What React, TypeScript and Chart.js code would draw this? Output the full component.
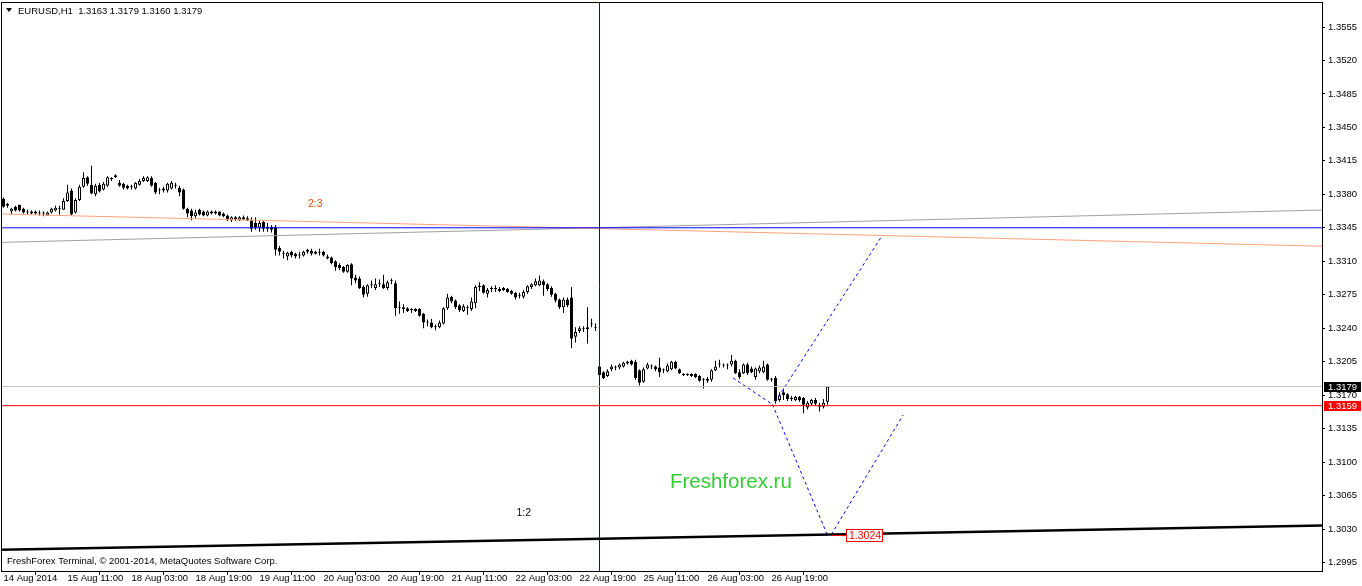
import { useEffect, useRef } from "react";
import { Chart, registerables } from "chart.js";

Chart.register(...registerables);

// ---------- DATA (EURUSD, H1) ----------
const OPEN = [
  1.3375, 1.337, 1.3362, 1.3367, 1.3369, 1.3365, 1.3362, 1.3362, 1.3362, 1.3361,
  1.336, 1.3358, 1.3361, 1.3363, 1.3365, 1.3364, 1.3373, 1.3384, 1.3361, 1.3374,
  1.3388, 1.3398, 1.339, 1.338, 1.339, 1.3385, 1.3389, 1.3396, 1.3398, 1.3392,
  1.3391, 1.3389, 1.3388, 1.3386, 1.339, 1.3394, 1.3394, 1.3397, 1.3392, 1.3384,
  1.3386, 1.3384, 1.3386, 1.3389, 1.3387, 1.3385, 1.3365, 1.3363, 1.3357, 1.3364,
  1.3362, 1.3358, 1.336, 1.3362, 1.3362, 1.336, 1.3358, 1.3353, 1.3356, 1.3353,
  1.3356, 1.3355, 1.3353, 1.335, 1.3345, 1.3351, 1.3346, 1.3346, 1.3346, 1.3324,
  1.3318, 1.3315, 1.332, 1.3318, 1.3316, 1.3316, 1.3322, 1.3321, 1.332, 1.3319,
  1.332, 1.3315, 1.3314, 1.331, 1.3306, 1.3304, 1.3299, 1.3307, 1.3293, 1.3292,
  1.3283, 1.3276, 1.3286, 1.3282, 1.3286, 1.3286, 1.3282, 1.3289, 1.3287, 1.3262,
  1.3262, 1.3261, 1.3259, 1.326, 1.326, 1.3255, 1.3247, 1.3246, 1.3241, 1.3241,
  1.3245, 1.3261, 1.3273, 1.3269, 1.3264, 1.3258, 1.3261, 1.326, 1.3266, 1.3283,
  1.3285, 1.3276, 1.3281, 1.3281, 1.3281, 1.3282, 1.3281, 1.3279, 1.3277, 1.3274,
  1.3273, 1.3278, 1.3283, 1.3285, 1.3285, 1.3289, 1.3286, 1.3282, 1.3276, 1.327,
  1.3262, 1.327, 1.3272, 1.3231, 1.3237, 1.3239, 1.3239, 1.3245, 1.3241, 1.32,
  1.3194, 1.319, 1.3197, 1.3199, 1.3199, 1.32, 1.3203, 1.3206, 1.3205, 1.3196,
  1.3184, 1.3198, 1.32, 1.32, 1.3199, 1.3196, 1.3195, 1.3197, 1.3205, 1.3197,
  1.3192, 1.3191, 1.319, 1.3192, 1.319, 1.3186, 1.3185, 1.3186, 1.3196, 1.3202,
  1.3201, 1.3202, 1.3202, 1.3206, 1.3194, 1.3193, 1.3202, 1.3198, 1.3189, 1.3195,
  1.3194, 1.3202, 1.3187, 1.3188, 1.3165, 1.3173, 1.3171, 1.3167, 1.3165, 1.3168,
  1.3167, 1.3157, 1.3161, 1.3165, 1.316, 1.3158, 1.3163,
];
const HIGH = [
  1.3377, 1.3371, 1.3366, 1.3368, 1.3369, 1.3366, 1.3364, 1.3363, 1.3363, 1.3363,
  1.3362, 1.3362, 1.3366, 1.3368, 1.3368, 1.3376, 1.339, 1.3386, 1.3376, 1.339,
  1.3403, 1.3399, 1.341, 1.3391, 1.3392, 1.3393, 1.3399, 1.3398, 1.3401, 1.3395,
  1.3392, 1.339, 1.339, 1.3393, 1.3396, 1.3399, 1.3399, 1.3399, 1.3393, 1.3387,
  1.3388, 1.3392, 1.3394, 1.3392, 1.3389, 1.3386, 1.3366, 1.3365, 1.3364, 1.3365,
  1.3363, 1.3363, 1.3363, 1.3363, 1.3362, 1.3361, 1.3359, 1.3357, 1.3357, 1.3357,
  1.3358, 1.3357, 1.3356, 1.3356, 1.3352, 1.3353, 1.335, 1.3348, 1.3348, 1.3326,
  1.3321, 1.332, 1.3321, 1.3319, 1.332, 1.3321, 1.3323, 1.3323, 1.3321, 1.3323,
  1.3321, 1.3317, 1.3315, 1.3311, 1.3308, 1.3305, 1.3307, 1.3308, 1.3296, 1.3294,
  1.3285, 1.3286, 1.329, 1.3292, 1.3291, 1.3296, 1.329, 1.3292, 1.329, 1.3268,
  1.3265, 1.3262, 1.3261, 1.3261, 1.3261, 1.3256, 1.3249, 1.325, 1.3244, 1.3248,
  1.3262, 1.3276, 1.3274, 1.327, 1.3265, 1.3265, 1.3264, 1.3272, 1.3285, 1.3288,
  1.3286, 1.3282, 1.3284, 1.3285, 1.3283, 1.3283, 1.3282, 1.328, 1.3278, 1.3277,
  1.328, 1.3285, 1.3287, 1.3292, 1.3295, 1.3291, 1.3287, 1.3284, 1.3277, 1.3271,
  1.3272, 1.3272, 1.3283, 1.3241, 1.3242, 1.3242, 1.3262, 1.325, 1.3245, 1.3202,
  1.3195, 1.3197, 1.3202, 1.3201, 1.3203, 1.3205, 1.3206, 1.3207, 1.3207, 1.3197,
  1.3199, 1.3204, 1.3202, 1.3201, 1.3209, 1.3198, 1.3203, 1.3206, 1.3206, 1.3198,
  1.3193, 1.3193, 1.3193, 1.3193, 1.3191, 1.3188, 1.3189, 1.3197, 1.3206, 1.3207,
  1.3203, 1.3203, 1.3212, 1.3207, 1.3197, 1.3203, 1.3204, 1.32, 1.3199, 1.3201,
  1.3206, 1.3203, 1.3188, 1.319, 1.3173, 1.3177, 1.3172, 1.3169, 1.3169, 1.3169,
  1.3168, 1.3164, 1.3166, 1.3167, 1.3162, 1.3166, 1.3179,
];
const LOW = [
  1.3366, 1.3366, 1.3359, 1.3362, 1.3362, 1.336, 1.3359, 1.3359, 1.3359, 1.3358,
  1.3357, 1.3358, 1.336, 1.3362, 1.3359, 1.3364, 1.3372, 1.3358, 1.336, 1.3373,
  1.3387, 1.3389, 1.338, 1.3378, 1.3382, 1.3384, 1.3388, 1.3394, 1.3397, 1.3388,
  1.3385, 1.3385, 1.3385, 1.3385, 1.3389, 1.3393, 1.3393, 1.3388, 1.338, 1.338,
  1.3382, 1.3382, 1.3385, 1.3386, 1.3378, 1.3364, 1.3356, 1.3353, 1.3355, 1.3358,
  1.3357, 1.3357, 1.3359, 1.3359, 1.3357, 1.3356, 1.3352, 1.3351, 1.3352, 1.3352,
  1.3353, 1.3352, 1.3341, 1.3343, 1.3341, 1.3341, 1.3341, 1.334, 1.3316, 1.3316,
  1.3313, 1.3311, 1.3314, 1.3313, 1.3313, 1.3315, 1.3318, 1.3316, 1.3317, 1.3316,
  1.3315, 1.3312, 1.3307, 1.33, 1.3301, 1.3298, 1.3298, 1.3285, 1.3287, 1.3281,
  1.3272, 1.3273, 1.3282, 1.328, 1.3283, 1.3281, 1.328, 1.3286, 1.3253, 1.3255,
  1.3256, 1.3257, 1.3256, 1.3257, 1.3252, 1.324, 1.3242, 1.324, 1.3238, 1.324,
  1.3244, 1.3259, 1.3266, 1.326, 1.3257, 1.3257, 1.3254, 1.3258, 1.3261, 1.3279,
  1.3276, 1.3272, 1.3278, 1.3278, 1.3278, 1.3279, 1.3277, 1.3275, 1.327, 1.3271,
  1.3271, 1.3276, 1.3281, 1.3284, 1.3284, 1.3274, 1.3279, 1.3273, 1.3267, 1.326,
  1.3256, 1.3262, 1.3219, 1.3225, 1.3235, 1.3236, 1.3224, 1.3241, 1.3237, 1.3189,
  1.3187, 1.3189, 1.3195, 1.3196, 1.3197, 1.3199, 1.3202, 1.3201, 1.3186, 1.318,
  1.3183, 1.3197, 1.3197, 1.3195, 1.3189, 1.3193, 1.3194, 1.3196, 1.3197, 1.3192,
  1.319, 1.319, 1.3189, 1.3188, 1.3184, 1.3177, 1.3183, 1.3184, 1.3195, 1.3199,
  1.3199, 1.3197, 1.32, 1.3192, 1.3187, 1.3192, 1.3191, 1.3193, 1.3186, 1.3193,
  1.3193, 1.3185, 1.3184, 1.3161, 1.3163, 1.3165, 1.3164, 1.3164, 1.3164, 1.3163,
  1.3151, 1.3155, 1.3159, 1.3159, 1.3153, 1.3156, 1.316,
];
const CLOSE = [
  1.3367, 1.3368, 1.3365, 1.3363, 1.3363, 1.3361, 1.3361, 1.336, 1.336, 1.336,
  1.336, 1.3361, 1.3365, 1.3366, 1.3365, 1.3373, 1.3382, 1.3359, 1.3374, 1.3388,
  1.3397, 1.3391, 1.3381, 1.3389, 1.3383, 1.3391, 1.3398, 1.3397, 1.34, 1.3389,
  1.3387, 1.3386, 1.3388, 1.3392, 1.3394, 1.3397, 1.3398, 1.3389, 1.3382, 1.3384,
  1.3384, 1.3391, 1.3392, 1.3389, 1.3382, 1.3365, 1.336, 1.3357, 1.3361, 1.3359,
  1.3358, 1.3362, 1.3362, 1.336, 1.3358, 1.3357, 1.3353, 1.3356, 1.3354, 1.3356,
  1.3354, 1.3353, 1.3344, 1.3345, 1.335, 1.3344, 1.3344, 1.3343, 1.3322, 1.332,
  1.3318, 1.3319, 1.3316, 1.3315, 1.3317, 1.332, 1.332, 1.3318, 1.3318, 1.3319,
  1.3316, 1.3313, 1.3308, 1.3304, 1.3303, 1.3299, 1.3306, 1.3292, 1.329, 1.3282,
  1.3275, 1.3285, 1.3285, 1.3286, 1.3286, 1.3282, 1.3288, 1.3289, 1.3261, 1.3261,
  1.326, 1.3258, 1.3259, 1.3258, 1.3253, 1.3246, 1.3246, 1.3241, 1.3242, 1.3246,
  1.3261, 1.3272, 1.3268, 1.3262, 1.3259, 1.3263, 1.3261, 1.3268, 1.3283, 1.3283,
  1.3277, 1.328, 1.3281, 1.3282, 1.3279, 1.328, 1.3278, 1.3276, 1.3272, 1.3275,
  1.3278, 1.3284, 1.3286, 1.3289, 1.329, 1.3285, 1.3281, 1.3275, 1.3269, 1.3262,
  1.327, 1.3264, 1.3229, 1.3236, 1.324, 1.324, 1.3241, 1.3244, 1.324, 1.3191,
  1.3188, 1.3195, 1.32, 1.3199, 1.3202, 1.3204, 1.3205, 1.3202, 1.3188, 1.3183,
  1.3197, 1.3202, 1.3201, 1.3197, 1.3194, 1.3196, 1.3201, 1.3205, 1.3198, 1.3193,
  1.3191, 1.3191, 1.3192, 1.3189, 1.3185, 1.3186, 1.3187, 1.3196, 1.32, 1.3202,
  1.3201, 1.3201, 1.3206, 1.3193, 1.3189, 1.3202, 1.3193, 1.3194, 1.3198, 1.3199,
  1.32, 1.3186, 1.3186, 1.3164, 1.317, 1.317, 1.3166, 1.3166, 1.3168, 1.3165,
  1.316, 1.3162, 1.3165, 1.3161, 1.3158, 1.3162, 1.3179,
];

// time axis: a label every 16 hourly bars
const TIME_TICK_BARS = [0, 16, 32, 48, 64, 80, 96, 112, 128, 144, 160, 176, 192];
const TIME_TICK_LABELS = [
  "14 Aug 2014", "15 Aug 11:00", "18 Aug 03:00", "18 Aug 19:00", "19 Aug 11:00",
  "20 Aug 03:00", "20 Aug 19:00", "21 Aug 11:00", "22 Aug 03:00", "22 Aug 19:00",
  "25 Aug 11:00", "26 Aug 03:00", "26 Aug 19:00",
];
const PRICE_TICKS = [
  1.2995, 1.303, 1.3065, 1.31, 1.3135, 1.317, 1.3205, 1.324, 1.3275, 1.331,
  1.3345, 1.338, 1.3415, 1.345, 1.3485, 1.352, 1.3555,
];

// axis ranges
const X_MIN = -0.625;
const X_MAX = 329.625;
const Y_MAX = 1.3581144;
const Y_MIN = 1.298611;

// levels and objects
const BID_LEVEL = 1.3179;
const ALERT_LEVEL = 1.3159;
const BLUE_LEVEL = 1.3345;
const SEPARATOR_BAR = 149;
const ORANGE_TREND = [{ x: -1, y: 1.335945 }, { x: 330, y: 1.332569 }];
const GREY_TREND = [{ x: -1, y: 1.332973 }, { x: 330, y: 1.336366 }];
const BLACK_TREND = [{ x: -1, y: 1.300838 }, { x: 330, y: 1.303362 }];
const PATTERN_LEG_A = [{ x: 182.4, y: 1.318794 }, { x: 192.25, y: 1.316023 }];
const PATTERN_LEG_B = [{ x: 192.25, y: 1.316023 }, { x: 205.9, y: 1.302439 }];
const PATTERN_LEG_C = [{ x: 207, y: 1.302439 }, { x: 224.9, y: 1.314925 }];
const PATTERN_LEG_D = [{ x: 192.9, y: 1.316284 }, { x: 219.6, y: 1.333644 }];
const TARGET_PRICE = 1.3024;
const TARGET_LABEL = "1.3024";
const TARGET_BAR = 207;
const TARGET_TAG_BAR = 210.6;
const RATIO_LABEL_1 = { x: 76.1, y: 1.33699, text: "2:3" };
const RATIO_LABEL_2 = { x: 128.25, y: 1.304677, text: "1:2" };
const BRAND_LABEL = { x: 166.6, y: 1.307291, text: "Freshforex.ru" };
const TITLE = "EURUSD,H1  1.3163 1.3179 1.3160 1.3179";
const COPYRIGHT = "FreshForex Terminal, \u00A9 2001-2014, MetaQuotes Software Corp.";

const FONT = "'Liberation Sans', Arial, sans-serif";

const idx = OPEN.map((_, i) => i);

const overlayPlugin = {
  id: "mtOverlay",
  beforeDraw(chart: any) {
    const { ctx, width, height } = chart;
    ctx.save();
    ctx.fillStyle = "#ffffff";
    ctx.fillRect(0, 0, width, height);
    ctx.restore();
  },
  afterDatasetsDraw(chart: any) {
    const { ctx, scales } = chart;
    const xs = scales.x;
    const ys = scales.y;
    ctx.save();
    // ratio labels
    ctx.textBaseline = "middle";
    ctx.textAlign = "left";
    ctx.font = `10.5px ${FONT}`;
    ctx.fillStyle = "#ff4500";
    ctx.fillText(RATIO_LABEL_1.text, xs.getPixelForValue(RATIO_LABEL_1.x), ys.getPixelForValue(RATIO_LABEL_1.y));
    ctx.fillStyle = "#000000";
    ctx.fillText(RATIO_LABEL_2.text, xs.getPixelForValue(RATIO_LABEL_2.x), ys.getPixelForValue(RATIO_LABEL_2.y));
    // brand
    ctx.textBaseline = "alphabetic";
    ctx.font = `20.5px ${FONT}`;
    ctx.fillStyle = "#32cd32";
    ctx.fillText(BRAND_LABEL.text, xs.getPixelForValue(BRAND_LABEL.x), ys.getPixelForValue(BRAND_LABEL.y));
    // target price tag
    const ty = Math.round(ys.getPixelForValue(TARGET_PRICE));
    const tx0 = Math.round(xs.getPixelForValue(TARGET_BAR));
    const tx1 = Math.round(xs.getPixelForValue(TARGET_TAG_BAR));
    ctx.strokeStyle = "#ff0000";
    ctx.lineWidth = 1;
    ctx.beginPath();
    ctx.moveTo(tx0, ty + 0.5);
    ctx.lineTo(tx1, ty + 0.5);
    ctx.stroke();
    ctx.fillStyle = "#ffffff";
    ctx.fillRect(tx1, ty - 6, 37, 13);
    ctx.strokeRect(tx1 + 0.5, ty - 5.5, 36, 12);
    ctx.fillStyle = "#ff0000";
    ctx.font = `10.5px ${FONT}`;
    ctx.textBaseline = "middle";
    ctx.fillText(TARGET_LABEL, tx1 + 3, ty + 1);
    ctx.restore();
  },
  afterDraw(chart: any) {
    const { ctx, chartArea, scales } = chart;
    const { left, top, right, bottom } = chartArea;
    const ys = scales.y;
    ctx.save();
    // frame
    ctx.strokeStyle = "#000000";
    ctx.lineWidth = 1;
    ctx.strokeRect(left + 0.5, top + 0.5, right - left, bottom - top);
    // price tags on the axis
    const tag = (price: number, bg: string) => {
      const py = Math.round(ys.getPixelForValue(price));
      ctx.fillStyle = bg;
      ctx.fillRect(right + 2, py - 5, 37, 10);
      ctx.fillStyle = "#ffffff";
      ctx.font = `9.5px ${FONT}`;
      ctx.textAlign = "left";
      ctx.textBaseline = "middle";
      ctx.fillText(price.toFixed(4), right + 6, py + 0.5);
    };
    tag(BID_LEVEL, "#000000");
    tag(ALERT_LEVEL, "#ff0000");
    // title
    ctx.fillStyle = "#000000";
    ctx.beginPath();
    ctx.moveTo(6, 8);
    ctx.lineTo(12, 8);
    ctx.lineTo(9, 12);
    ctx.closePath();
    ctx.fill();
    ctx.font = `9.5px ${FONT}`;
    ctx.textAlign = "left";
    ctx.textBaseline = "middle";
    ctx.fillText(TITLE, 18, 11.5);
    ctx.fillText(COPYRIGHT, 7, 561.5);
    ctx.restore();
  },
};

export default function App() {
  const ref = useRef<HTMLCanvasElement>(null);
  useEffect(() => {
    document.body.style.margin = "0";
    const canvas = ref.current;
    if (!canvas) return;
    const hline = (level: number) => [{ x: X_MIN - 1, y: level }, { x: X_MAX + 1, y: level }];
    const lineDs = (label: string, data: any[], color: string, width: number, dash: number[] = []) => ({
      type: "line" as const,
      label,
      data,
      borderColor: color,
      borderWidth: width,
      borderDash: dash,
      pointRadius: 0,
      fill: false,
      tension: 0,
      order: 0,
    });
    const chart = new Chart(canvas, {
      type: "bar",
      data: {
        datasets: [
          lineDs("bid", hline(BID_LEVEL), "#c0c0c0", 1),
          lineDs("alert", hline(ALERT_LEVEL), "#ff0000", 1),
          lineDs("level", hline(BLUE_LEVEL), "#0000ff", 1),
          lineDs("separator", [{ x: SEPARATOR_BAR, y: Y_MIN - 0.01 }, { x: SEPARATOR_BAR, y: Y_MAX + 0.01 }], "#0000ff", 1),
          lineDs("orange", ORANGE_TREND, "#ffa07a", 1),
          lineDs("grey", GREY_TREND, "#a0a0a0", 1),
          lineDs("black", BLACK_TREND, "#000000", 2.5),
          lineDs("legA", PATTERN_LEG_A, "#0000ff", 1, [3, 3]),
          lineDs("legB", PATTERN_LEG_B, "#0000ff", 1, [3, 3]),
          lineDs("legC", PATTERN_LEG_C, "#0000ff", 1, [3, 3]),
          lineDs("legD", PATTERN_LEG_D, "#0000ff", 1, [3, 3]),
          {
            type: "bar" as const,
            label: "wicks",
            data: idx.map((i) => ({ x: i, y: [LOW[i], HIGH[i]] })) as any,
            backgroundColor: "#000000",
            barThickness: 1,
            grouped: false,
            inflateAmount: 0,
            order: 5,
          } as any,
          {
            type: "bar" as const,
            label: "bodies",
            data: idx.map((i) => ({ x: i, y: [OPEN[i], CLOSE[i]] })) as any,
            backgroundColor: idx.map((i) => (CLOSE[i] >= OPEN[i] ? "#ffffff" : "#000000")),
            borderColor: "#000000",
            borderWidth: 1,
            borderSkipped: false,
            barThickness: 3,
            minBarLength: 1,
            grouped: false,
            inflateAmount: 0,
            order: 4,
          } as any,
        ],
      },
      options: {
        animation: false,
        responsive: false,
        maintainAspectRatio: false,
        events: [],
        layout: { padding: { left: 1, top: 2, right: 0, bottom: 0 } },
        plugins: { legend: { display: false }, tooltip: { enabled: false } },
        scales: {
          x: {
            type: "linear",
            min: X_MIN,
            max: X_MAX,
            offset: false,
            position: "bottom",
            grid: { drawOnChartArea: false, drawTicks: true, tickLength: 4, tickColor: "#000000", color: "#000000" },
            border: { display: false },
            ticks: {
              autoSkip: false,
              maxRotation: 0,
              align: "start",
              padding: -2,
              color: "#000000",
              font: { family: FONT, size: 9.5 },
              callback: (v: any) => {
                const k = TIME_TICK_BARS.indexOf(Number(v));
                return k >= 0 ? TIME_TICK_LABELS[k] : "";
              },
            },
            afterBuildTicks: (s: any) => {
              s.ticks = TIME_TICK_BARS.map((v) => ({ value: v }));
            },
            afterFit: (s: any) => {
              s.height = 15;
              s.paddingLeft = 0;
              s.paddingRight = 0;
            },
          },
          y: {
            type: "linear",
            position: "right",
            min: Y_MIN,
            max: Y_MAX,
            beginAtZero: false,
            grid: { drawOnChartArea: false, drawTicks: true, tickLength: 3, tickColor: "#000000", color: "#000000" },
            border: { display: false },
            ticks: {
              autoSkip: false,
              padding: 3,
              color: "#000000",
              font: { family: FONT, size: 9.5 },
              callback: (v: any) => Number(v).toFixed(4),
            },
            afterBuildTicks: (s: any) => {
              s.ticks = PRICE_TICKS.map((v) => ({ value: v }));
            },
            afterFit: (s: any) => {
              s.width = 40;
              s.paddingTop = 0;
              s.paddingBottom = 0;
            },
          },
        },
      } as any,
      plugins: [overlayPlugin],
    });
    return () => chart.destroy();
  }, []);
  return (
    <canvas
      ref={ref}
      width={1362}
      height={586}
      style={{ display: "block", width: 1362, height: 586 }}
    />
  );
}
